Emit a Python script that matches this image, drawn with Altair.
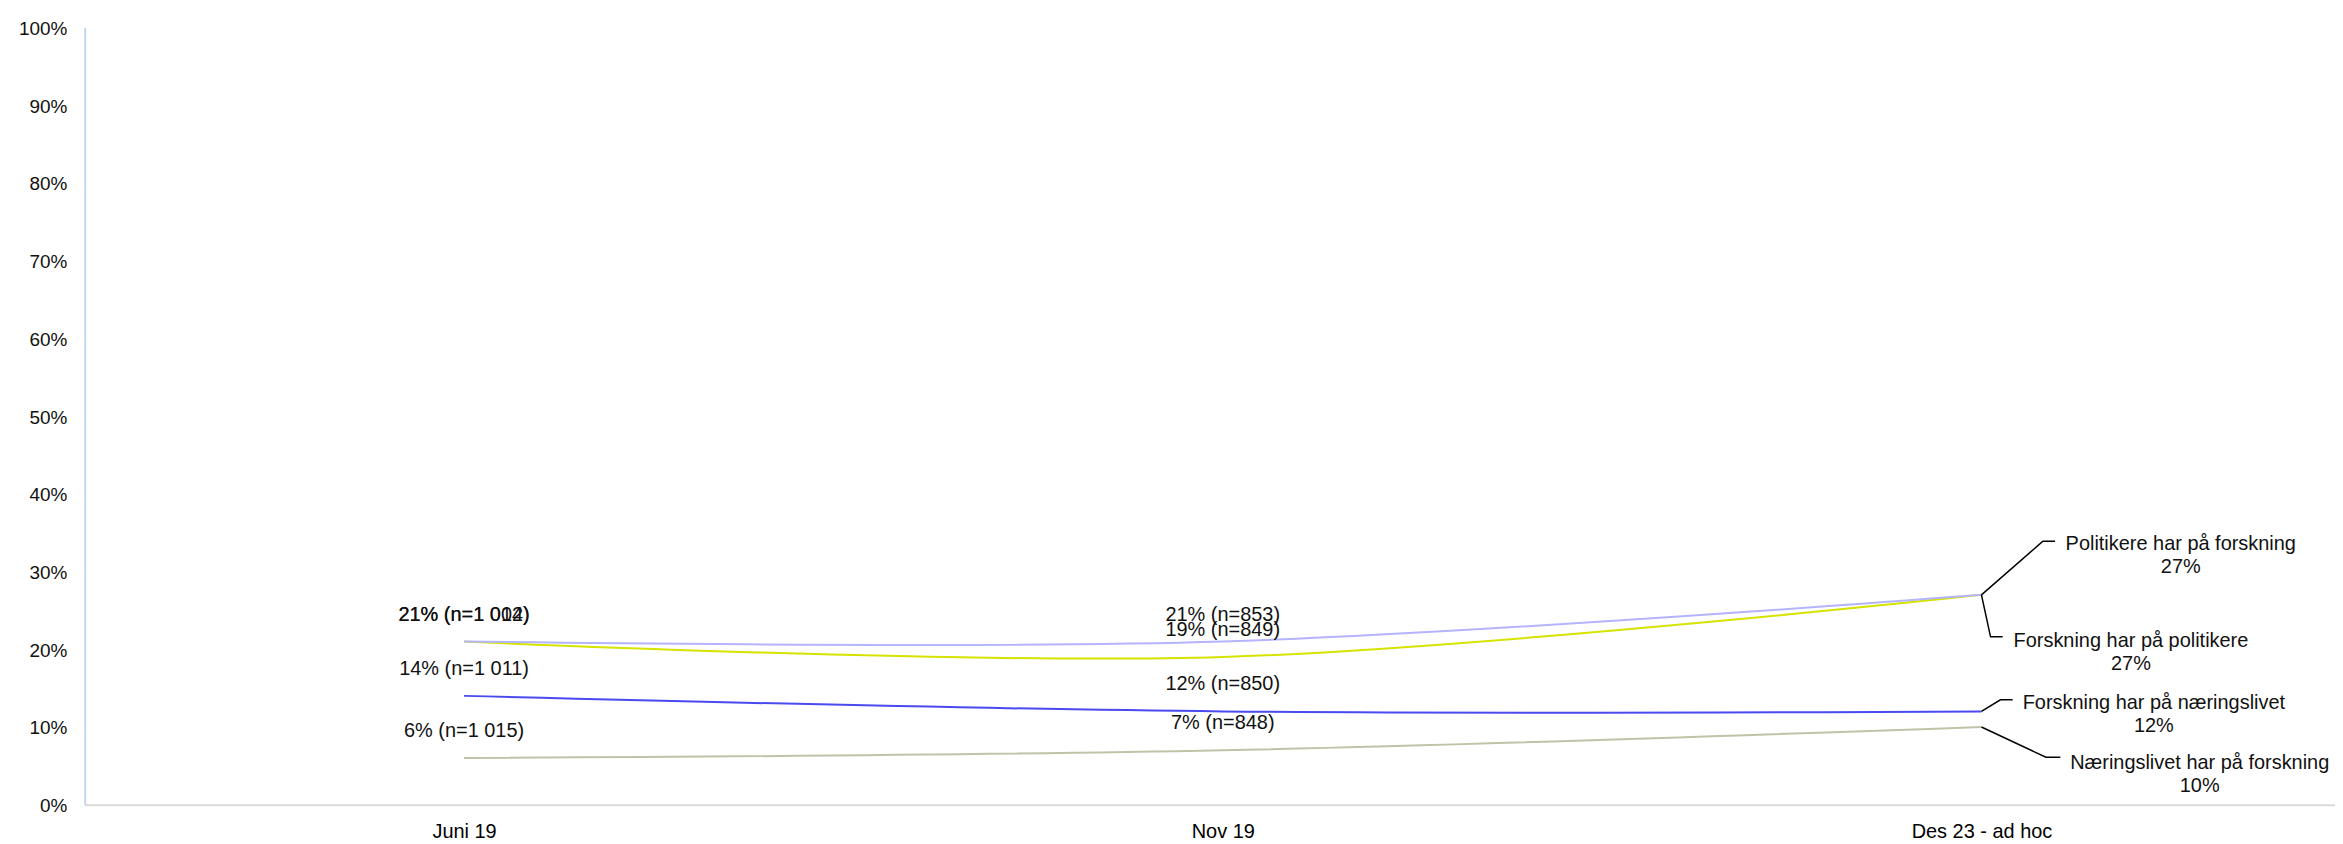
import altair as alt
import pandas as pd

# ---- data ----
categories = ["Juni 19", "Nov 19", "Des 23 - ad hoc"]
series = [
    "Forskning har på politikere",
    "Politikere har på forskning",
    "Forskning har på næringslivet",
    "Næringslivet har på forskning",
]
values = {
    "Politikere har på forskning": [21, 21, 27],
    "Forskning har på politikere": [21, 19, 27],
    "Forskning har på næringslivet": [14, 12, 12],
    "Næringslivet har på forskning": [6, 7, 10],
}
n_sizes = {
    "Politikere har på forskning": ["1 012", "853"],
    "Forskning har på politikere": ["1 004", "849"],
    "Forskning har på næringslivet": ["1 011", "850"],
    "Næringslivet har på forskning": ["1 015", "848"],
}

# ---- styles ----
FONT = "Liberation Sans"
colors = {
    "Politikere har på forskning": "#b4b4ff",
    "Forskning har på politikere": "#d6e300",
    "Forskning har på næringslivet": "#4a4af0",
    "Næringslivet har på forskning": "#c0c3a8",
}
# leader line shape (elbow dx, elbow dy, end dx in data units) and label offsets (px)
leader_style = {
    "Politikere har på forskning": dict(ex=0.081, ey=6.9, endx=0.097, ldx=200, ldy=-51),
    "Forskning har på politikere": dict(ex=0.012, ey=-5.4, endx=0.028, ldx=150, ldy=46),
    "Forskning har på næringslivet": dict(ex=0.025, ey=1.5, endx=0.041, ldx=173, ldy=-8),
    "Næringslivet har på forskning": dict(ex=0.085, ey=-3.9, endx=0.104, ldx=219, ldy=36),
}

x_scale = alt.Scale(domain=[-0.5, 2.466], nice=False, zero=False)
y_scale = alt.Scale(domain=[0, 100], nice=False)

x_axis = alt.Axis(
    values=[0, 1, 2],
    labelExpr=f"{categories}[datum.value]",
    title=None, grid=False, ticks=False,
    domainColor="#d9d9d9", domainWidth=2,
    labelFont=FONT, labelFontSize=20, labelColor="#000000", labelPadding=17,
)
y_axis = alt.Axis(
    values=list(range(0, 101, 10)),
    labelExpr="datum.value + '%'",
    title=None, grid=False, ticks=False,
    domainColor="#c5d6ec", domainWidth=2,
    labelFont=FONT, labelFontSize=19, labelColor="#111111", labelPadding=18,
    labelOffset=1,
)
X = alt.X("x:Q", scale=x_scale, axis=x_axis)
Y = alt.Y("v:Q", scale=y_scale, axis=y_axis)

layers = []
for s in series:
    df = pd.DataFrame({"x": [0, 1, 2], "v": values[s]})
    layers.append(
        alt.Chart(df).mark_line(
            interpolate="catmull-rom", color=colors[s], strokeWidth=2
        ).encode(x=X, y=Y)
    )

# data labels at first two time points
lab_rows = []
for s in series:
    for j in range(2):
        lab_rows.append({"x": j, "v": values[s][j], "t": f"{values[s][j]}% (n={n_sizes[s][j]})"})
lab_df = pd.DataFrame(lab_rows)
layers.append(
    alt.Chart(lab_df).mark_text(
        font=FONT, fontSize=20, color="#111111", baseline="middle", align="center", dy=-27
    ).encode(x=X, y=Y, text="t:N")
)

# leader lines and end labels
for s in series:
    st = leader_style[s]
    v = values[s][2]
    ldf = pd.DataFrame({
        "x": [2, 2 + st["ex"], 2 + st["endx"]],
        "v": [v, v + st["ey"], v + st["ey"]],
        "o": [0, 1, 2],
    })
    layers.append(
        alt.Chart(ldf).mark_line(color="#000000", strokeWidth=1.5).encode(
            x=X, y=Y, order="o:Q",
        )
    )
    tdf = pd.DataFrame({"x": [2], "v": [v], "t": [[s, f"{v}%"]]})
    layers.append(
        alt.Chart(tdf).mark_text(
            font=FONT, fontSize=20, color="#111111", baseline="middle", align="center",
            lineHeight=23, dx=st["ldx"], dy=st["ldy"],
        ).encode(x=X, y=Y, text="t")
    )

chart = alt.layer(*layers).properties(
    width=2258, height=780,
    padding={"left": 77, "top": 18, "right": 0, "bottom": 38},
    autosize=alt.AutoSizeParams(type="none"),
    background="white",
).configure_view(stroke=None)

chart.save("out.html", embed_options={"renderer": "svg", "actions": False})
